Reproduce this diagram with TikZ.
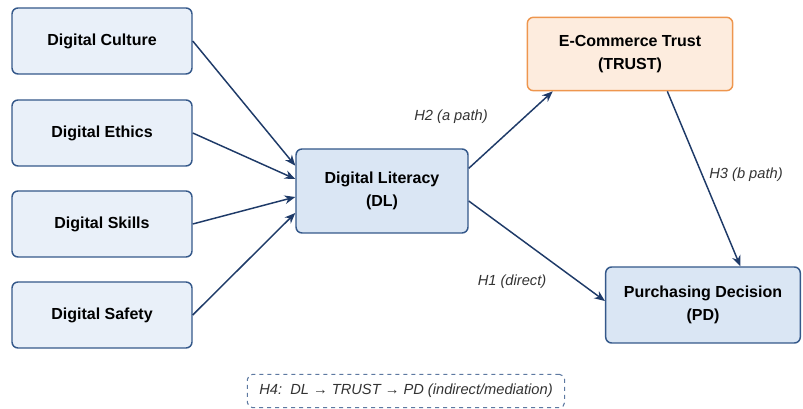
\documentclass[tikz,border=0pt]{standalone}
\usepackage{fontspec}
\setmainfont{Liberation Sans}
\usetikzlibrary{arrows.meta}

\definecolor{boxfill}{RGB}{233,240,249}
\definecolor{midfill}{RGB}{218,230,244}
\definecolor{boxline}{RGB}{52,88,138}
\definecolor{trustfill}{RGB}{253,236,222}
\definecolor{trustline}{RGB}{238,150,78}
\definecolor{pathcol}{RGB}{30,58,104}

\begin{document}
\begin{tikzpicture}[x=0.75pt,y=-0.75pt,
  factor/.style={draw=boxline,fill=boxfill,line width=1.1pt,rounded corners=4.5pt,
    minimum width=135pt,minimum height=49.5pt,font=\bfseries\fontsize{12}{17}\selectfont,align=center},
  construct/.style={factor,fill=midfill,minimum width=129pt,minimum height=63pt},
  path/.style={-{Stealth[length=8pt,width=6.5pt]},draw=pathcol,line width=1.1pt},
  hyp/.style={font=\itshape\fontsize{11}{13}\selectfont,text=black!80}]
\useasboundingbox (0,0) rectangle (803,409);
% antecedents
\node[factor] (culture) at (102,41) {Digital Culture};
\node[factor] (ethics) at (102,133) {Digital Ethics};
\node[factor] (skills) at (102,224) {Digital Skills};
\node[factor] (safety) at (102,315) {Digital Safety};
% model
\node[construct] (dl) at (382,191) {Digital Literacy\\(DL)};
\node[construct,fill=trustfill,draw=trustline,minimum width=154pt,minimum height=55pt] (trust) at (630,54) {E-Commerce Trust\\(TRUST)};
\node[construct,minimum width=146pt,minimum height=57pt] (pd) at (703,305) {Purchasing Decision\\(PD)};
\draw[path] (culture.east) -- ([yshift=19pt]dl.west);
\draw[path] (ethics.east) -- ([yshift=9pt]dl.west);
\draw[path] (skills.east) -- ([yshift=-4.5pt]dl.west);
\draw[path] (safety.east) -- ([yshift=-16.5pt]dl.west);
\draw[path] ([yshift=17pt]dl.east) -- ([xshift=-58pt]trust.south);
\draw[path] ([xshift=28pt]trust.south) -- ([xshift=28pt]pd.north);
\draw[path] ([yshift=-7.5pt]dl.east) -- ([yshift=3pt]pd.west);
\node[hyp] (h2) at (451,117) {H2 (a path)};
\node[hyp] (h3) at (746,175) {H3 (b path)};
\node[hyp] (h1) at (512,282) {H1 (direct)};
% mediation note
\node[draw=boxline!80,dashed,fill=white,rounded corners=4pt,line width=0.8pt,
  minimum width=238pt,minimum height=25pt,hyp] (h4) at (406,391)
  {H4:\ \ DL → TRUST → PD (indirect/mediation)};
\end{tikzpicture}
\end{document}
